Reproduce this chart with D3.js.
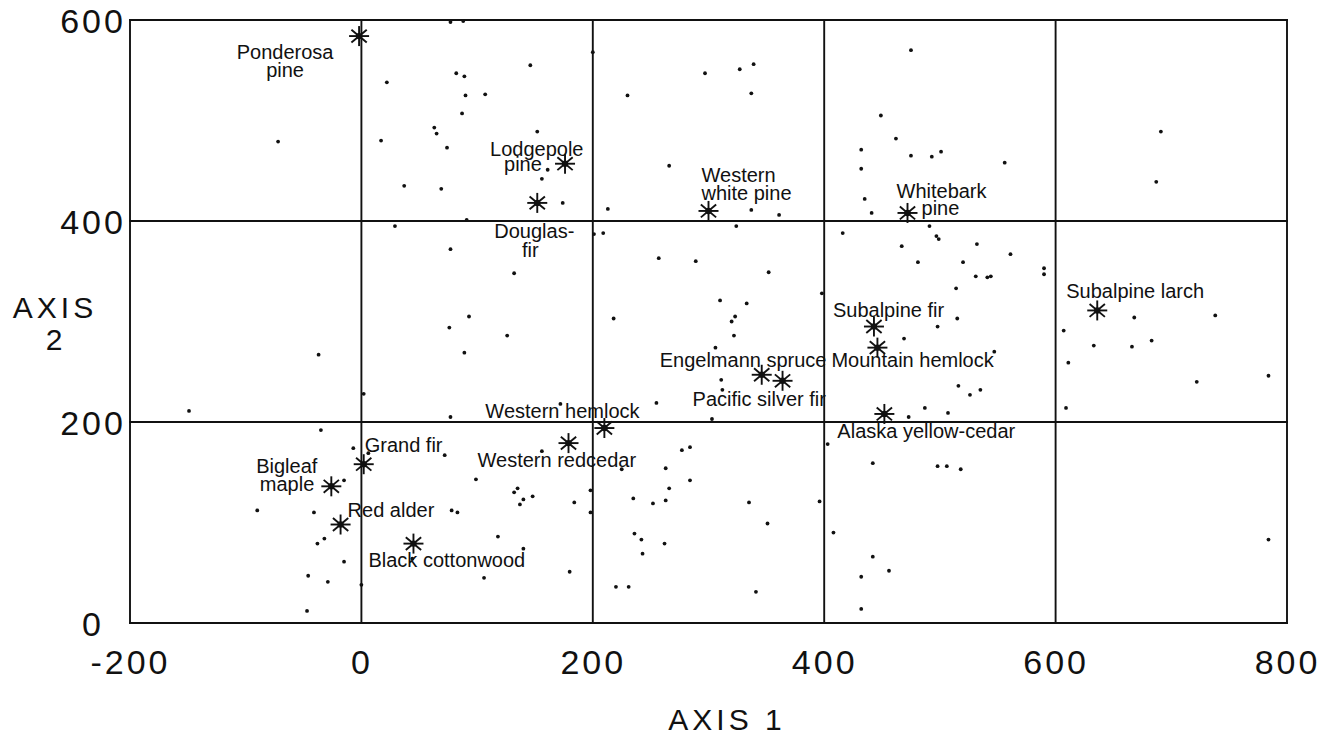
<!DOCTYPE html>
<html>
<head>
<meta charset="utf-8">
<script src="https://cdn.jsdelivr.net/npm/d3@7"></script>
<style>
body { margin: 0; background: #fff; }
text { font-family: "Liberation Sans", Arial, Helvetica, sans-serif; fill: #111; }
</style>
</head>
<body>
<svg id="chart" width="1337" height="737"></svg>
<script>
// axis ticks
var xTicks = [-200, 0, 200, 400, 600, 800];
var yTicks = [0, 200, 400, 600];

// species centroids (stars)
var species = ["Ponderosa\npine", "Lodgepole\npine", "Douglas-\nfir", "Western\nwhite pine", "Whitebark\npine",
	"Subalpine larch", "Subalpine fir", "Mountain hemlock", "Engelmann spruce", "Pacific silver fir",
	"Alaska yellow-cedar", "Western hemlock", "Western redcedar", "Grand fir", "Bigleaf\nmaple",
	"Red alder", "Black cottonwood"];
var speciesX = [-2, 176, 152, 300, 472, 636, 443, 446, 346, 364, 452, 210, 179, 2, -26, -18, 45];
var speciesY = [584, 457, 418, 410, 408, 311, 295, 274, 247, 241, 208, 194, 179, 158, 136, 98, 79];

// plot scores (dots)
var plotX = [22, -72, 17, 37, 29,
	77, 88, 146, 82, 89, 90, 107, 87, 63, 65, 152, 74, 161, 156, 69, 174, 200, 230, 266, 213, 91, 201, 209, 77, 257, 132, 93, 218,
	297, 327, 339, 337, 475, 449, 462, 432, 475, 493, 501, 432, 435, 441, 337, 361, 416, 324, 491, 497, 499, 467, 481, 289, 352, 514, 310, 333, 398, 323, 320, 515,
	556, 691, 687, 532, 561, 520, 531, 541, 544, 590, 590, 668, 738,
	-37, -149, 2, -35, -7, 6, -15, -90, -41, -38, -32, -15, -46, -29, 0, -47,
	76, 126, 89, 77, 172, 255, 156, 72, 225, 263, 277, 99, 135, 132, 140, 148, 137, 184, 198, 198, 235, 252, 263, 266, 78, 83, 118, 140, 236, 242, 243, 262, 180, 106, 220, 231, 44,
	322, 306, 311, 312, 303, 469, 498, 516, 487, 507, 473, 284, 284, 335, 351, 396, 403, 442, 498, 506, 518, 408, 442, 456, 432, 432, 341,
	547, 526, 535, 607, 633, 666, 683, 611, 722, 609, 784, 784];
var plotY = [538, 479, 480, 435, 395,
	598, 599, 555, 547, 544, 525, 526, 507, 493, 487, 489, 473, 451, 442, 432, 418, 568, 525, 455, 412, 401, 387, 388, 372, 363, 348, 305, 303,
	547, 551, 556, 527, 570, 505, 482, 471, 465, 464, 469, 452, 422, 408, 411, 406, 388, 395, 395, 385, 382, 375, 359, 360, 349, 333, 321, 318, 328, 305, 300, 303,
	458, 489, 439, 377, 367, 359, 345, 344, 345, 353, 347, 304, 306,
	267, 211, 228, 192, 174, 169, 142, 112, 110, 79, 84, 61, 47, 41, 38, 12,
	294, 286, 269, 205, 218, 219, 171, 167, 153, 154, 172, 143, 134, 130, 123, 126, 118, 120, 132, 110, 124, 119, 122, 134, 112, 110, 86, 74, 89, 83, 69, 79, 51, 45, 36, 36, 64,
	286, 274, 242, 232, 203, 283, 295, 236, 214, 209, 205, 175, 142, 120, 99, 121, 178, 159, 156, 156, 153, 90, 66, 52, 46, 14, 31,
	270, 227, 232, 291, 276, 275, 281, 259, 240, 214, 246, 83];

// label placement relative to each star, in pixels: anchor and [dx, dy] per line
var labelPos = [
	{ a: "middle", l: [[-74, 23], [-74, 41]] },
	{ a: "start", l: [[-75, -8], [-61, 7]] },
	{ a: "middle", l: [[-3, 35], [-7, 54]] },
	{ a: "start", l: [[-7, -29], [-7, -11]] },
	{ a: "start", l: [[-11, -15], [14, 2]] },
	{ a: "start", l: [[-31, -12]] },
	{ a: "start", l: [[-41, -10]] },
	{ a: "start", l: [[-46, 19]] },
	{ a: "start", l: [[-102, -8]] },
	{ a: "start", l: [[-90, 25]] },
	{ a: "start", l: [[-47, 24]] },
	{ a: "start", l: [[-119, -10]] },
	{ a: "start", l: [[-91, 24]] },
	{ a: "start", l: [[1, -12]] },
	{ a: "end", l: [[-14, -13], [-17, 5]] },
	{ a: "start", l: [[7, -8]] },
	{ a: "start", l: [[-45, 23]] }
];

var svg = d3.select("#chart");
var mLeft = 130, mRight = 1287, mTop = 20, mBottom = 623;
var x = d3.scaleLinear().domain([-200, 800]).range([mLeft, mRight]);
var y = d3.scaleLinear().domain([0, 600]).range([mBottom, mTop]);

// grid (the frame is part of it)
svg.append("g").selectAll("line").data(xTicks).enter().append("line")
	.attr("x1", function (d) { return x(d); }).attr("x2", function (d) { return x(d); })
	.attr("y1", y(0)).attr("y2", y(600))
	.attr("stroke", "#111").attr("stroke-width", 1.9);
svg.append("g").selectAll("line").data(yTicks).enter().append("line")
	.attr("x1", x(-200) - 1).attr("x2", x(800) + 1)
	.attr("y1", function (d) { return y(d); }).attr("y2", function (d) { return y(d); })
	.attr("stroke", "#111").attr("stroke-width", 1.9);

// tick labels through axes
var xAxis = svg.append("g").attr("transform", "translate(0," + mBottom + ")")
	.call(d3.axisBottom(x).tickValues(xTicks).tickSize(0).tickPadding(27).tickFormat(function (d) { return String(d); }));
var yAxis = svg.append("g").attr("transform", "translate(" + mLeft + ",0)")
	.call(d3.axisLeft(y).tickValues(yTicks).tickSize(0).tickPadding(0).tickFormat(function (d) { return String(d); }));
[xAxis, yAxis].forEach(function (g) {
	g.select(".domain").remove();
	g.selectAll("text").attr("font-family", null).attr("font-size", 34).style("letter-spacing", "3px");
});
yAxis.selectAll("text").attr("text-anchor", "middle").attr("x", 93 - mLeft).attr("dy", "0.36em");

// axis titles
svg.append("text").attr("x", 727).attr("y", 730).attr("text-anchor", "middle")
	.attr("font-size", 30).style("letter-spacing", "4px").text("AXIS 1");
svg.append("text").attr("x", 55).attr("y", 318).attr("text-anchor", "middle")
	.attr("font-size", 30).style("letter-spacing", "4px").text("AXIS");
svg.append("text").attr("x", 54).attr("y", 350).attr("text-anchor", "middle")
	.attr("font-size", 30).text("2");

// plot dots
svg.append("g").selectAll("circle").data(plotX).enter().append("circle")
	.attr("cx", function (d) { return x(d); })
	.attr("cy", function (d, i) { return y(plotY[i]); })
	.attr("r", 1.9).attr("fill", "#111");

// species stars
var r = 10;
var spokes = [0, 90, 40, 140];
var stars = svg.append("g").selectAll("g").data(species).enter().append("g")
	.attr("transform", function (d, i) { return "translate(" + x(speciesX[i]) + "," + y(speciesY[i]) + ")"; });
spokes.forEach(function (a) {
	var rad = a * Math.PI / 180;
	stars.append("line")
		.attr("x1", -r * Math.cos(rad)).attr("y1", -r * Math.sin(rad))
		.attr("x2", r * Math.cos(rad)).attr("y2", r * Math.sin(rad))
		.attr("stroke", "#111").attr("stroke-width", 1.9);
});
stars.append("circle").attr("r", 3.2).attr("fill", "#111");

// species labels
stars.each(function (d, i) {
	var pos = labelPos[i];
	var lines = d.split("\n");
	for (var j = 0; j < lines.length; j++) {
		d3.select(this).append("text")
			.attr("x", pos.l[j][0]).attr("y", pos.l[j][1])
			.attr("text-anchor", pos.a)
			.attr("font-size", 20)
			.text(lines[j]);
	}
});
</script>
</body>
</html>
